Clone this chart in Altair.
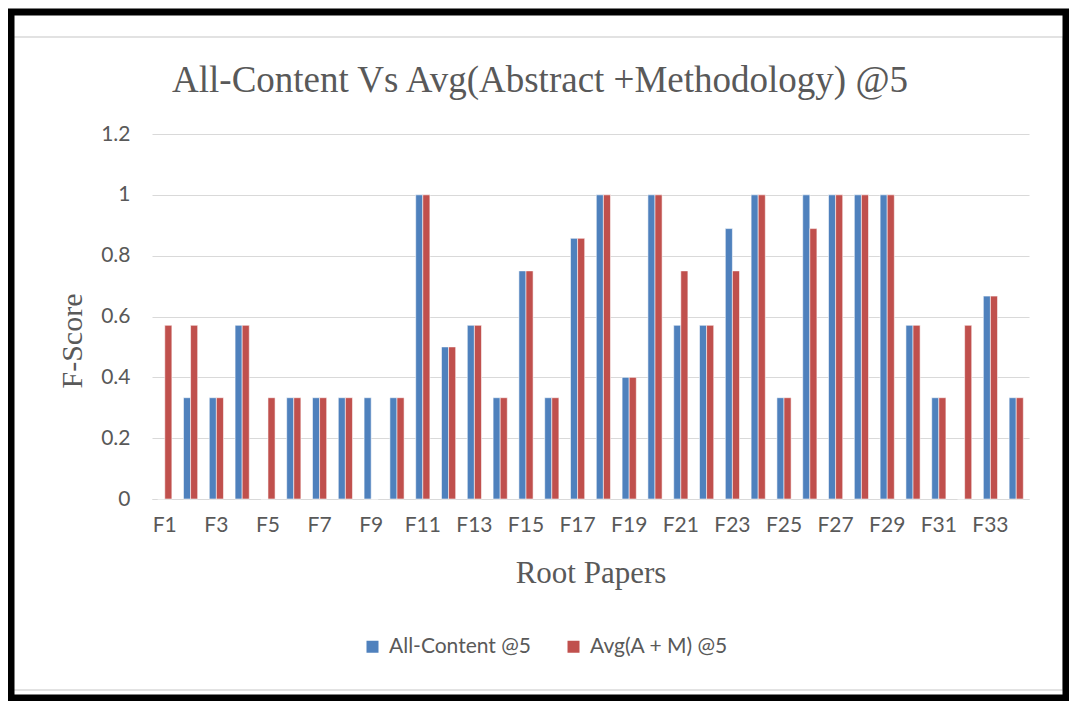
import altair as alt
import pandas as pd

papers = [f"F{i}" for i in range(1, 35)]
all_content = [0, 0.333, 0.333, 0.571, 0, 0.333, 0.333, 0.333, 0.333, 0.333,
               1, 0.5, 0.571, 0.333, 0.75, 0.333, 0.857, 1, 0.4, 1,
               0.571, 0.571, 0.889, 1, 0.333, 1, 1, 1, 1, 0.571,
               0.333, 0, 0.667, 0.333]
avg_am = [0.571, 0.571, 0.333, 0.571, 0.333, 0.333, 0.333, 0.333, 0, 0.333,
          1, 0.5, 0.571, 0.333, 0.75, 0.333, 0.857, 1, 0.4, 1,
          0.75, 0.571, 0.75, 1, 0.333, 0.889, 1, 1, 1, 0.571,
          0.333, 0.571, 0.667, 0.333]
series_names = ["All-Content @5", "Avg(A + M) @5"]
series_colors = ["#4F81BD", "#C0504D"]
y_ticks = [0, 0.2, 0.4, 0.6, 0.8, 1, 1.2]
x_tick_labels = papers[::2]
chart_title = ["All-Content Vs Avg(Abstract +Methodology) @5"]

rows = []
for p, a, b in zip(papers, all_content, avg_am):
    rows.append({"paper": p, "series": series_names[0], "score": a})
    rows.append({"paper": p, "series": series_names[1], "score": b})
df = pd.DataFrame(rows)

TEXT = "#595959"
W, H = 877, 365

bars = alt.Chart(df).mark_bar(stroke="white", strokeWidth=0.8, strokeOpacity=0.7).encode(
    x=alt.X("paper:N", sort=papers,
            scale=alt.Scale(paddingInner=0.45, paddingOuter=0.22),
            axis=alt.Axis(title="Root Papers", values=x_tick_labels, labelAngle=0,
                          labelFont="Lato", labelFontSize=21, labelColor=TEXT,
                          labelBaseline="middle", labelPadding=26,
                          ticks=False, domainColor="#D9D9D9", domainWidth=1.2,
                          titleFont="Liberation Serif", titleFontSize=31,
                          titleFontWeight="normal", titleColor=TEXT,
                          titleBaseline="middle", titleY=74)),
    xOffset=alt.XOffset("series:N", sort=series_names),
    y=alt.Y("score:Q", scale=alt.Scale(domain=[0, 1.2], nice=False),
            axis=alt.Axis(title="F-Score", values=y_ticks, format="~g",
                          domain=False, ticks=False, gridColor="#D9D9D9",
                          gridWidth=1.2,
                          labelFont="Lato", labelFontSize=21, labelColor=TEXT,
                          labelPadding=22,
                          titleFont="Liberation Serif", titleFontSize=30,
                          titleFontWeight="normal", titleColor=TEXT,
                          titleAngle=-90, titleBaseline="middle", titleAlign="center",
                          titleX=-80, titleY=H / 2 + 24)),
    color=alt.Color("series:N", sort=series_names,
                    scale=alt.Scale(domain=series_names, range=series_colors),
                    legend=alt.Legend(title=None, orient="none", direction="horizontal",
                                      legendX=210, legendY=502,
                                      symbolType="square", symbolSize=144,
                                      symbolStrokeWidth=0, labelFont="Lato",
                                      labelFontSize=21, labelColor=TEXT,
                                      labelOffset=6, columnPadding=32)),
)

title_df = pd.DataFrame({"t": chart_title})
title = alt.Chart(title_df).mark_text(
    font="Liberation Serif", fontSize=37, color=TEXT, align="center", baseline="alphabetic"
).encode(text="t:N", x=alt.value(388), y=alt.value(-42))

frame_df = pd.DataFrame({"k": [0]})
outer = alt.Chart(frame_df).mark_rect(fill=None, stroke="black", strokeWidth=7).encode(
    x=alt.value(-141), x2=alt.value(1061 - 144 - 3),
    y=alt.value(-122), y2=alt.value(693 - 126 - 3),
)
inner = alt.Chart(frame_df).mark_rect(fill=None, stroke="#D9D9D9", strokeWidth=1.5).encode(
    x=alt.value(-140), x2=alt.value(911),
    y=alt.value(-97), y2=alt.value(556),
)

chart = alt.layer(inner, bars, title, outer).properties(
    width=W, height=H,
    autosize=alt.AutoSizeParams(type="none"),
    padding={"left": 144, "top": 126, "right": 1061 - 144 - W, "bottom": 693 - 126 - H},
).configure(background="white").configure_view(stroke=None)

chart.save("out.html", embed_options={"renderer": "svg", "actions": False})
